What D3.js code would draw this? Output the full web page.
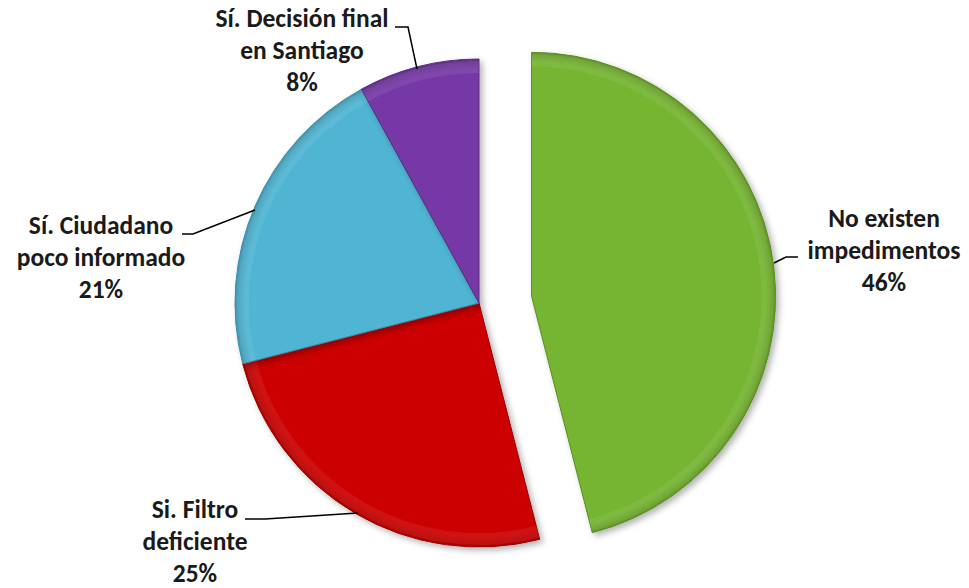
<!DOCTYPE html>
<html>
<head>
<meta charset="utf-8">
<script src="https://cdn.jsdelivr.net/npm/d3@7"></script>
<style>
  body { margin: 0; background: #fff; }
  svg text { font-family: Carlito, Lato, "Open Sans", sans-serif; font-weight: bold; fill: #1a1a1a; }
</style>
</head>
<body>
<svg width="969" height="588"></svg>
<script>
// data
var categories = ["No existen impedimentos", "Si. Filtro deficiente", "Sí. Ciudadano poco informado", "Sí. Decisión final en Santiago"];
var values = [46, 25, 21, 8];
var labelLines = [
    ["No existen", "impedimentos", "46%"],
    ["Si. Filtro", "deficiente", "25%"],
    ["Sí. Ciudadano", "poco informado", "21%"],
    ["Sí. Decisión final", "en Santiago", "8%"]
];
var colors = ["#76b531", "#cc0000", "#4fb5d3", "#7638a6"];
var edges = ["#5a8c22", "#990000", "#3a8ea8", "#5a2a80"];

// layout
var cx = 479, cy = 303, radius = 244, explode = 53;
// x = line centre, y = first baseline
var labelPos = [
    { x: 884, y: 227 },
    { x: 195, y: 518 },
    { x: 101, y: 234 },
    { x: 302, y: 27 }
];
var lineHeight = 32;
var leaders = [
    [[798, 257], [786, 257], [774, 263]],
    [[245, 519], [265, 519], [358, 513]],
    [[182, 234], [193, 234], [255, 210]],
    [[395, 27], [408, 27], [417, 69]]
];

var svg = d3.select("svg");
var defs = svg.append("defs");
var f = defs.append("filter").attr("id", "shadow")
    .attr("x", "-10%").attr("y", "-10%").attr("width", "130%").attr("height", "130%");
f.append("feDropShadow").attr("dx", 3).attr("dy", 3).attr("stdDeviation", 3)
    .attr("flood-color", "#000").attr("flood-opacity", 0.3);

colors.forEach(function(c, i) {
    var g = defs.append("radialGradient").attr("id", "grad" + i)
        .attr("gradientUnits", "userSpaceOnUse")
        .attr("cx", 0).attr("cy", 0).attr("r", radius);
    g.append("stop").attr("offset", "0%").attr("stop-color", c);
    g.append("stop").attr("offset", "96%").attr("stop-color", c);
    g.append("stop").attr("offset", "100%").attr("stop-color", d3.color(c).darker(0.5));
});

var pie = d3.pie().sort(null).value(function(d) { return d; });
var arcs = pie(values);
var arc = d3.arc().innerRadius(0).outerRadius(radius);
var rimArc = d3.arc().innerRadius(radius - 14).outerRadius(radius - 2);

var slices = svg.append("g").attr("transform", "translate(" + cx + "," + cy + ")")
    .selectAll("g.slice")
    .data(arcs)
    .enter()
    .append("g")
    .attr("class", "slice")
    .attr("transform", function(d, i) {
        if (i !== 0) return null;
        var a = (d.startAngle + d.endAngle) / 2;
        return "translate(" + (Math.sin(a) * explode) + "," + (-Math.cos(a) * explode) + ")";
    });

slices.append("path")
    .attr("d", arc)
    .attr("fill", function(d, i) { return "url(#grad" + i + ")"; })
    .attr("stroke", function(d, i) { return edges[i]; })
    .attr("stroke-width", 1)
    .attr("filter", "url(#shadow)");

// soft bevel highlight along the rim
slices.append("path")
    .attr("d", rimArc)
    .attr("fill", "#fff")
    .attr("opacity", 0.07);

// leader lines
svg.append("g").selectAll("polyline")
    .data(leaders)
    .enter()
    .append("polyline")
    .attr("points", function(d) {
        return d.map(function(p) { return p.join(","); }).join(" ");
    })
    .attr("fill", "none")
    .attr("stroke", "#000")
    .attr("stroke-width", 1.5);

// labels
var labels = svg.append("g").selectAll("text")
    .data(labelLines)
    .enter()
    .append("text")
    .attr("text-anchor", "middle")
    .attr("font-size", 25.5)
    .attr("x", function(d, i) { return labelPos[i].x; })
    .attr("y", function(d, i) { return labelPos[i].y; });

labels.selectAll("tspan")
    .data(function(d, i) { return d.map(function(t) { return { t: t, i: i }; }); })
    .enter()
    .append("tspan")
    .attr("x", function(d) { return labelPos[d.i].x; })
    .attr("dy", function(d, j) { return j === 0 ? 0 : lineHeight; })
    .text(function(d) { return d.t; });
</script>
</body>
</html>
